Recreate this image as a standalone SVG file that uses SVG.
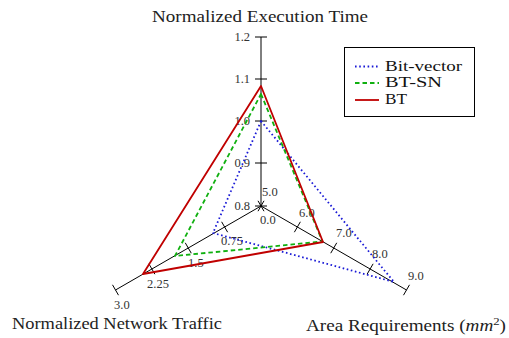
<svg xmlns="http://www.w3.org/2000/svg" width="509" height="338" viewBox="0 0 509 338">
<style>
.ax{stroke:#000;stroke-width:1;fill:none}
.tk{stroke:#000;stroke-width:1}
text{font-family:'Liberation Serif','DejaVu Serif','Times New Roman',serif}
.lbl{font-size:12.5px;fill:#333}
.ttl{font-size:16.5px;fill:#222}
.leg{font-size:14.5px;fill:#111}
.bv{stroke:#1a1ad6;stroke-width:1.8;fill:none;stroke-dasharray:1.6 2.6;stroke-linejoin:round}
.sn{stroke:#10b010;stroke-width:1.8;fill:none;stroke-dasharray:4.5 3;stroke-linejoin:round}
.bt{stroke:#c00000;stroke-width:1.8;fill:none;stroke-linejoin:round}
</style>
<rect width="509" height="338" fill="#fff"/>
<g id="axes">
<line class="ax" x1="261" y1="206" x2="261" y2="37"/>
<line class="ax" x1="261" y1="206" x2="115.5" y2="290"/>
<line class="ax" x1="261" y1="206" x2="406.5" y2="290"/>
<g class="tk">
<line x1="255" y1="37" x2="267" y2="37"/>
<line x1="255" y1="79" x2="267" y2="79"/>
<line x1="255" y1="121" x2="267" y2="121"/>
<line x1="255" y1="163" x2="267" y2="163"/>
<line x1="255" y1="206" x2="267" y2="206"/>
<line x1="264" y1="211.2" x2="258" y2="200.8"/>
<line x1="227.63" y1="232.2" x2="221.63" y2="221.8"/>
<line x1="191.26" y1="253.2" x2="185.26" y2="242.8"/>
<line x1="154.88" y1="274.2" x2="148.88" y2="263.8"/>
<line x1="118.51" y1="295.2" x2="112.51" y2="284.8"/>
<line x1="258" y1="211.2" x2="264" y2="200.8"/>
<line x1="294.37" y1="232.2" x2="300.37" y2="221.8"/>
<line x1="330.74" y1="253.2" x2="336.74" y2="242.8"/>
<line x1="367.12" y1="274.2" x2="373.12" y2="263.8"/>
<line x1="403.49" y1="295.2" x2="409.49" y2="284.8"/>
</g>
<g class="lbl">
<text x="250" y="41" text-anchor="end">1.2</text>
<text x="250" y="83" text-anchor="end">1.1</text>
<text x="250" y="125" text-anchor="end">1.0</text>
<text x="250" y="167" text-anchor="end">0.9</text>
<text x="250" y="210" text-anchor="end">0.8</text>
<text x="262" y="196">5.0</text>
<text x="260" y="224">0.0</text>
<text x="299" y="217">6.0</text>
<text x="336" y="237">7.0</text>
<text x="372" y="258">8.0</text>
<text x="408" y="280">9.0</text>
<text x="221" y="245">0.75</text>
<text x="188" y="267">1.5</text>
<text x="147" y="288">2.25</text>
<text x="114" y="309">3.0</text>
</g>
<text class="ttl" x="152" y="22" textLength="216" lengthAdjust="spacingAndGlyphs">Normalized Execution Time</text>
<text class="ttl" x="12" y="329" textLength="210" lengthAdjust="spacingAndGlyphs">Normalized Network Traffic</text>
<text class="ttl" x="306" y="331" textLength="200" lengthAdjust="spacingAndGlyphs">Area Requirements (<tspan font-style="italic">mm</tspan><tspan dy="-6" font-size="11">2</tspan><tspan dy="6">)</tspan></text>
</g>
<g id="connectors">
<polygon id="bitvector" class="bv" points="261,121 394,282 213,233"/>
<polygon id="btsn" class="sn" points="261,94 322.5,241.5 175,256"/>
<polygon id="bt" class="bt" points="261,86 323,242 143,274"/>
</g>
<g id="legend">
<rect x="344.5" y="47.5" width="130" height="69" fill="#fff" stroke="#000" stroke-width="1"/>
<line class="bv" x1="355" y1="66.5" x2="379" y2="66.5"/>
<line class="sn" x1="355" y1="83" x2="379" y2="83"/>
<line class="bt" x1="355" y1="100" x2="379" y2="100"/>
<text class="leg" x="385" y="70.5" textLength="77" lengthAdjust="spacingAndGlyphs">Bit-vector</text>
<text class="leg" x="385" y="87" textLength="57" lengthAdjust="spacingAndGlyphs">BT-SN</text>
<text class="leg" x="385" y="104" textLength="22" lengthAdjust="spacingAndGlyphs">BT</text>
</g>
</svg>
